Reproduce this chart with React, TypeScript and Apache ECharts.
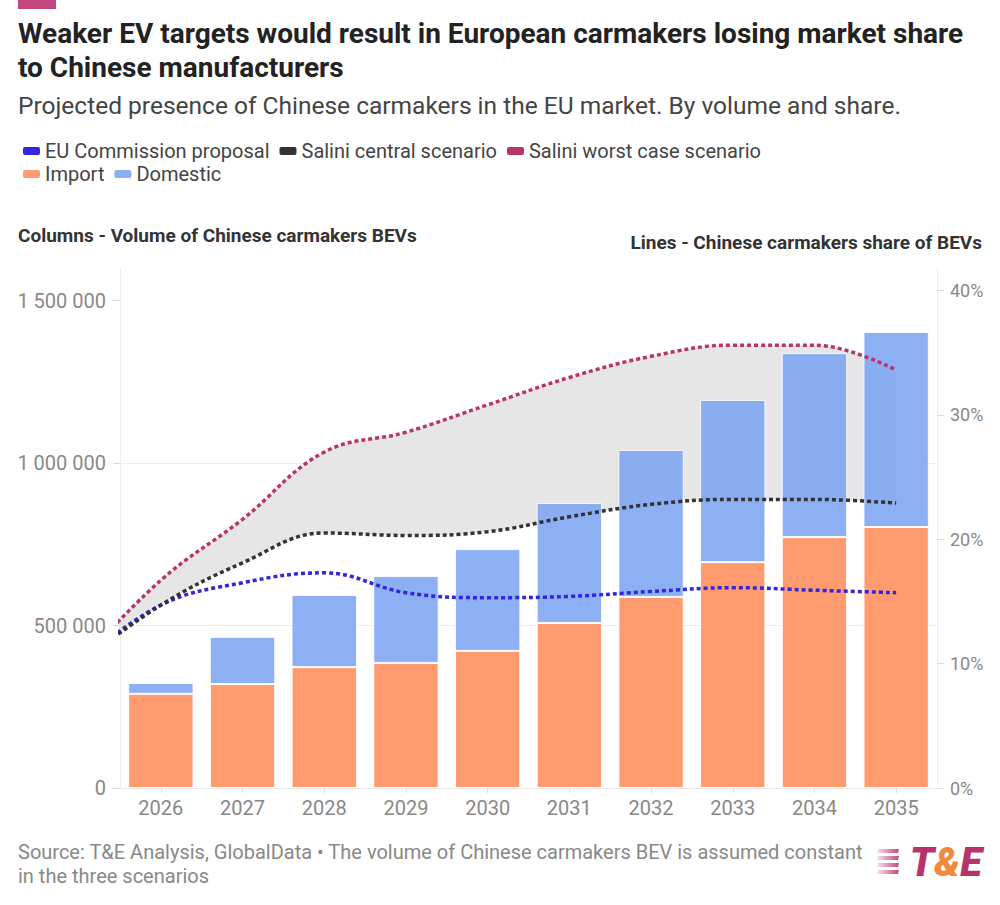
import { useEffect, useRef } from "react";
import * as echarts from "echarts";

const years = ["2026", "2027", "2028", "2029", "2030", "2031", "2032", "2033", "2034", "2035"];
const importVolume = [290000, 320000, 372000, 385000, 422000, 508000, 588000, 695000, 772000, 803000];
const domesticVolume = [33000, 145000, 222000, 267000, 313000, 369000, 452000, 499000, 566000, 600000];

// lines start one year before the columns and are clipped at the plot edge
const lineYears = [2025, 2026, 2027, 2028, 2029, 2030, 2031, 2032, 2033, 2034, 2035];
const euCommissionShare = [10, 14.7, 16.5, 17.3, 15.7, 15.3, 15.4, 15.8, 16.1, 15.9, 15.7];
const centralShare = [10, 14.7, 18.1, 20.5, 20.3, 20.6, 21.8, 22.8, 23.2, 23.2, 22.9];
const worstShare = [10, 16.7, 21.6, 27.0, 28.6, 30.8, 33.0, 34.7, 35.6, 35.6, 33.6];

const volumeTicks = [0, 500000, 1000000, 1500000];
const shareTicks = [0, 10, 20, 30, 40];

const FONT = "Roboto";
const SMOOTH = 0.4;
const BLUE = "#3325e0";
const BLACK = "#333333";
const RED = "#b9336c";
const MAGENTA = "#c4467f";

function spaced(v: number) {
  return String(v).replace(/\B(?=(\d{3})+(?!\d))/g, " ");
}

function pairs(values: number[]) {
  return values.map((v, i) => [lineYears[i], v]);
}

// share first, year second: keeps the stack on the share dimension
function stackPairs(values: number[]) {
  return values.map((v, i) => [v, lineYears[i]]);
}

function scenarioLine(name: string, values: number[], color: string) {
  return {
    name,
    type: "line",
    xAxisIndex: 1,
    yAxisIndex: 1,
    data: pairs(values),
    smooth: SMOOTH,
    symbol: "none",
    z: 3,
    itemStyle: { color },
    lineStyle: { color, width: 3.5, type: [4, 3] }
  };
}

function stripes() {
  const grad = new echarts.graphic.LinearGradient(0, 0, 1, 0, [
    { offset: 0, color: "rgba(196,70,127,0.15)" },
    { offset: 1, color: MAGENTA }
  ]);
  return [849, 856, 863, 870].map((y) => ({
    type: "polygon",
    shape: { points: [[878, y], [899, y], [898, y + 4], [877, y + 4]] },
    style: { fill: grad }
  }));
}

export default function App() {
  const chartRef = useRef<HTMLDivElement | null>(null);

  useEffect(() => {
    if (!chartRef.current) return;
    const chart = echarts.init(chartRef.current, null, { renderer: "svg" });

    const legendBase = {
      left: 18,
      icon: "roundRect",
      itemWidth: 17,
      itemHeight: 8,
      itemGap: 10,
      selectedMode: false,
      itemStyle: { borderWidth: 0 },
      textStyle: { fontSize: 20, color: "#444", fontFamily: FONT }
    };

    chart.setOption({
      animation: false,
      backgroundColor: "#fff",
      textStyle: { fontFamily: FONT },
      legend: [
        { ...legendBase, top: 136, data: ["EU Commission proposal", "Salini central scenario", "Salini worst case scenario"] },
        { ...legendBase, top: 159, data: ["Import", "Domestic"] }
      ],
      grid: { left: 120, right: 63, top: 268, bottom: 117, containLabel: false, outerBoundsMode: "none" },
      xAxis: [
        {
          type: "category",
          data: years,
          axisLine: { lineStyle: { color: "#e8e8e8" } },
          axisTick: { show: true, alignWithLabel: true, length: 5, lineStyle: { color: "#e0e0e0" } },
          axisLabel: { color: "#888", fontSize: 20, margin: 10, fontFamily: FONT }
        },
        { type: "value", min: 2025.5, max: 2035.5, show: false }
      ],
      yAxis: [
        {
          type: "value",
          position: "left",
          min: 0,
          max: 1600000,
          interval: 500000,
          axisLine: { show: true, lineStyle: { color: "#eeeeee" } },
          axisTick: { show: true, length: 7, customValues: volumeTicks, lineStyle: { color: "#dddddd" } },
          axisLabel: {
            color: "#888",
            fontSize: 20,
            margin: 14,
            fontFamily: FONT,
            formatter: (v: number) => (volumeTicks.includes(v) ? spaced(v) : "")
          },
          splitLine: { show: true, showMaxLine: false, lineStyle: { color: "#eeeeee" } }
        },
        {
          type: "value",
          position: "right",
          min: 0,
          max: 41.8,
          interval: 10,
          axisLine: { show: true, lineStyle: { color: "#eeeeee" } },
          axisTick: { show: true, length: 7, customValues: shareTicks, lineStyle: { color: "#dddddd" } },
          axisLabel: {
            color: "#888",
            fontSize: 18,
            margin: 13,
            fontFamily: FONT,
            formatter: (v: number) => (shareTicks.includes(v) ? v + "%" : "")
          },
          splitLine: { show: false }
        }
      ],
      series: [
        {
          name: "bandBase",
          type: "line",
          xAxisIndex: 1,
          yAxisIndex: 1,
          stack: "band",
          data: stackPairs(centralShare),
          encode: { x: 1, y: 0 },
          smooth: SMOOTH,
          symbol: "none",
          silent: true,
          z: 1,
          lineStyle: { opacity: 0 }
        },
        {
          name: "bandSpread",
          type: "line",
          xAxisIndex: 1,
          yAxisIndex: 1,
          stack: "band",
          data: stackPairs(worstShare.map((v, i) => v - centralShare[i])),
          encode: { x: 1, y: 0 },
          smooth: SMOOTH,
          symbol: "none",
          silent: true,
          z: 1,
          lineStyle: { opacity: 0 },
          areaStyle: { color: "#e6e6e6", opacity: 1 }
        },
        {
          name: "Import",
          type: "bar",
          stack: "vol",
          data: importVolume,
          barCategoryGap: "20%",
          z: 2,
          itemStyle: { color: "#ff9b6e", borderColor: "#fff", borderWidth: 1 }
        },
        {
          name: "Domestic",
          type: "bar",
          stack: "vol",
          data: domesticVolume,
          barCategoryGap: "20%",
          z: 2,
          itemStyle: { color: "#79a2f3", opacity: 0.85, borderColor: "#fff", borderWidth: 1 }
        },
        scenarioLine("EU Commission proposal", euCommissionShare, BLUE),
        scenarioLine("Salini central scenario", centralShare, BLACK),
        scenarioLine("Salini worst case scenario", worstShare, RED)
      ],
      graphic: [
        { type: "rect", shape: { x: 18, y: 0, width: 38, height: 9 }, style: { fill: MAGENTA } },
        {
          type: "text",
          x: 18,
          y: 33,
          style: { text: "Weaker EV targets would result in European carmakers losing market share", fontSize: 28, fontWeight: "bold", fontFamily: FONT, fill: "#222", verticalAlign: "middle" }
        },
        {
          type: "text",
          x: 18,
          y: 67,
          style: { text: "to Chinese manufacturers", fontSize: 28, fontWeight: "bold", fontFamily: FONT, fill: "#222", verticalAlign: "middle" }
        },
        {
          type: "text",
          x: 18,
          y: 105,
          style: { text: "Projected presence of Chinese carmakers in the EU market. By volume and share.", fontSize: 24.5, fontFamily: FONT, fill: "#444", verticalAlign: "middle" }
        },
        {
          type: "text",
          x: 18,
          y: 235,
          style: { text: "Columns - Volume of Chinese carmakers BEVs", fontSize: 19, fontWeight: "bold", fontFamily: FONT, fill: "#333", verticalAlign: "middle" }
        },
        {
          type: "text",
          x: 982,
          y: 242,
          style: { text: "Lines - Chinese carmakers share of BEVs", fontSize: 19, fontWeight: "bold", fontFamily: FONT, fill: "#333", align: "right", verticalAlign: "middle" }
        },
        {
          type: "text",
          x: 18,
          y: 852,
          style: { text: "Source: T&E Analysis, GlobalData \u2022 The volume of Chinese carmakers BEV is assumed constant", fontSize: 20, fontFamily: FONT, fill: "#888", verticalAlign: "middle" }
        },
        {
          type: "text",
          x: 18,
          y: 876,
          style: { text: "in the three scenarios", fontSize: 20, fontFamily: FONT, fill: "#888", verticalAlign: "middle" }
        },
        ...stripes(),
        {
          type: "text",
          x: 982,
          y: 862,
          style: {
            text: "{a|T}{b|&}{a|E}",
            align: "right",
            verticalAlign: "middle",
            rich: {
              a: { fill: "#b8336a", fontSize: 40, fontWeight: 900, fontStyle: "italic", fontFamily: FONT },
              b: { fill: "#f08a3c", fontSize: 40, fontWeight: 900, fontStyle: "italic", fontFamily: FONT }
            }
          }
        }
      ]
    });

    return () => {
      chart.dispose();
    };
  }, []);

  return <div ref={chartRef} style={{ position: "absolute", left: 0, top: 0, width: 1000, height: 905 }} />;
}
